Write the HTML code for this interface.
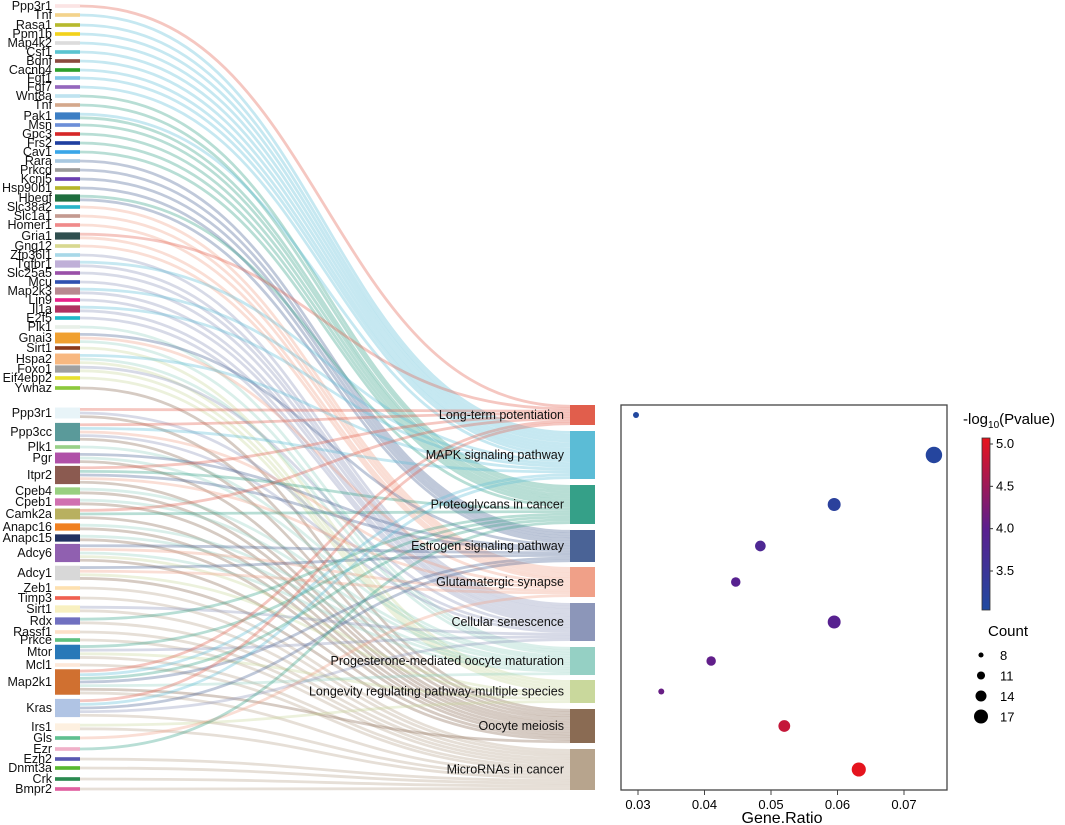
<!DOCTYPE html>
<html><head><meta charset="utf-8"><style>
body{margin:0;background:#fff;}
svg{display:block;font-family:"Liberation Sans",Arial,sans-serif;}
</style></head><body>
<svg id="c" width="1065" height="825" viewBox="0 0 1065 825">
<g id="links"></g>
<g id="genes"></g>
<g id="paths"></g>
<g id="dot"></g>
</svg>
<script>
const pathways=["Long-term potentiation","MAPK signaling pathway","Proteoglycans in cancer","Estrogen signaling pathway","Glutamatergic synapse","Cellular senescence","Progesterone-mediated oocyte maturation","Longevity regulating pathway-multiple species","Oocyte meiosis","MicroRNAs in cancer"];
const geneRatio=[0.0297,0.0745,0.0595,0.0484,0.0447,0.0595,0.041,0.0335,0.052,0.0632];
const counts=[8,17,14,12,11,14,11,8,13,15];
const pvals=[3.1,3.15,3.25,3.8,3.95,3.95,4.05,4.1,4.8,5.05];
const genes=["Ppp3r1","Tnf","Rasa1","Ppm1b","Map4k2","Csf1","Bdnf","Cacnb4","Fgf1","Fgf7","Wnt8a","Tnf","Pak1","Msn","Gpc3","Frs2","Cav1","Rara","Prkcd","Kcnj5","Hsp90b1","Hbegf","Slc38a2","Slc1a1","Homer1","Gria1","Gng12","Zfp36l1","Tgfbr1","Slc25a5","Mcu","Map2k3","Lin9","Il1a","E2f5","Plk1","Gnai3","Sirt1","Hspa2","Foxo1","Eif4ebp2","Ywhaz","Ppp3r1","Ppp3cc","Plk1","Pgr","Itpr2","Cpeb4","Cpeb1","Camk2a","Anapc16","Anapc15","Adcy6","Adcy1","Zeb1","Timp3","Sirt1","Rdx","Rassf1","Prkce","Mtor","Mcl1","Map2k1","Kras","Irs1","Gls","Ezr","Ezh2","Dnmt3a","Crk","Bmpr2"];
const geneLinks=[[0],[1],[1],[1],[1],[1],[1],[1],[1],[1],[2],[2],[1,2],[2],[2],[2],[2],[3],[3],[3],[3],[2,3],[4],[4],[4],[0,4],[4],[5],[1,5],[5],[5],[1,5],[5],[1,5],[5],[6],[3,4,6],[7],[1,6,7],[5,7],[7],[8],[0,5,8],[0,1,4,5,8],[6],[3,6,8],[0,2,3,4,8],[6,8],[6,8],[0,2,8],[6,8],[6,8],[3,4,6,7,8],[3,4,7,8],[9],[9],[5,9],[2,9],[9],[9],[2,5,7,9],[9],[0,1,2,3,6,8,9],[0,1,3,5,9],[7,9],[4],[2],[9],[9],[9],[9]];
const geneCenters=[6,15,25,34,43,52,61,70,78,87,96,105,116,125,134,143,152,161,170,179,188,198,207,216,225,236,246,255,264,273,282,291,300,309,318,327,338,348,359,369,378,388,413,432,447,458,475,491,502,514,527,538,553,573,588,598,609,621,632,640,652,665,682,708,727,738,749,759,768,779,789];
const geneColors=["#fbe4e4","#f3d38c","#b6b92e","#f2d21c","#dcdcdc","#5bc4d0","#8b4a3e","#2ca02c","#7fc8e8","#9467bd","#bfe3f0","#d4a88c","#3c7ec4","#6c8fd8","#d62728","#1f3fa0","#3aa6e8","#a8c8e0","#9a9a9a","#6a3fb0","#b5b52a","#1e6e3e","#2ab4c8","#c49a90","#f08a8a","#2f4f4f","#d8d890","#a8d8e8","#c0b0d8","#9a50a8","#3050b0","#b88890","#e8208a","#b03060","#20b8c8","#e8f0e8","#f0a030","#8b3a1a","#f8b880","#a0a0a0","#e8e030","#8cc83c","#e8f4f8","#5a9a9a","#98d088","#b050a8","#8b5a50","#98d080","#d070b0","#b8b060","#f08020","#203060","#9060b0","#d8d8d8","#fde0b0","#f06050","#f8f0c0","#7070c0","#fde0c8","#60c080","#2878b8","#fde8d8","#d07030","#b0c4e4","#fdf0e0","#60c090","#f0b0c8","#5858b0","#58b830","#2a8a50","#e060a0"];
const pColors=["#e15e4c","#5bbcd6","#35a088","#4a6396","#f0a088","#8c96b9","#95d0c4","#c9d89c","#8a6b53","#b7a48d"];
const pTop=[405,431,485,530,567,603,647,680,709,749];
const pBot=[425,479,524,562,597,641,675,703,743,790];

const NS="http://www.w3.org/2000/svg";
function mk(t,a,p){const e=document.createElementNS(NS,t);for(const k in a)e.setAttribute(k,a[k]);p.appendChild(e);return e;}
const U=2.8;
const L=document.getElementById('links'),G=document.getElementById('genes'),P=document.getElementById('paths'),D=document.getElementById('dot');
const pl=pathways.map(()=>[]);
geneLinks.forEach((ls,gi)=>ls.forEach((p,j)=>pl[p].push([gi,j])));
const tgtY={};
pl.forEach((arr,p)=>{const h=(pBot[p]-pTop[p]);arr.forEach(([gi,j],k)=>{tgtY[gi+'_'+j]=pTop[p]+(k+0.5)*h/arr.length;});});
geneLinks.forEach((ls,gi)=>{
  const h=Math.max(3,ls.length*U*1.3), top=geneCenters[gi]-h/2;
  ls.forEach((p,j)=>{
    const ys=top+(j+0.5)*h/ls.length, yt=tgtY[gi+'_'+j];
    const e=mk('path',{d:`M80,${ys} C325,${ys} 325,${yt} 570,${yt}`,fill:'none',stroke:pColors[p],'stroke-width':U,'stroke-opacity':0.35},L);
    
    
  });
  const r=mk('rect',{x:55,y:top,width:25,height:h,fill:geneColors[gi]},G);
  
  
  const t=mk('text',{x:52,y:geneCenters[gi]+4,'text-anchor':'end','font-size':12.5,fill:'#111'},G);
  t.textContent=genes[gi];
  
  
});
pathways.forEach((n,p)=>{
  const r=mk('rect',{x:570,y:pTop[p],width:25,height:pBot[p]-pTop[p],fill:pColors[p]},P);
  
  
  const t=mk('text',{x:564,y:(pTop[p]+pBot[p])/2+4,'text-anchor':'end','font-size':12.5,fill:'#111'},P);
  t.textContent=n;
  
  
});
const xs=v=>638+(v-0.03)*6650;
const cs=v=>444+(5.0-v)*84.67;
const rs=c=>3+(c-8)*0.58;
function col(v){const t=Math.max(0,Math.min(1,(v-3.05)/2.02));
  const a=[[31,74,160],[90,31,143],[232,20,28]];let i,f;
  if(t<0.47){i=0;f=t/0.47}else{i=1;f=(t-0.47)/0.53}
  const c=a[i].map((x,k)=>Math.round(x+(a[i+1][k]-x)*f));return `rgb(${c})`;}
const box=mk('rect',{x:621,y:405,width:326,height:385,fill:'none',stroke:'#444','stroke-width':1.3},D);

[0.03,0.04,0.05,0.06,0.07].forEach(v=>{
  mk('line',{x1:xs(v),x2:xs(v),y1:790,y2:795,stroke:'#444'},D);
  const t=mk('text',{x:xs(v),y:809,'text-anchor':'middle','font-size':13},D);t.textContent=v.toFixed(2);
  
});
const xt=mk('text',{x:782,y:823,'text-anchor':'middle','font-size':16},D);xt.textContent='Gene.Ratio';

pathways.forEach((n,p)=>{
  const c=mk('circle',{cx:xs(geneRatio[p]),cy:(pTop[p]+pBot[p])/2,r:rs(counts[p]),fill:col(pvals[p])},D);
  
});
const defs=mk('defs',{},D);const g=mk('linearGradient',{id:'cb',x1:0,y1:1,x2:0,y2:0},defs);
[[0,'#1f4aa0'],[0.47,'#5a1f8f'],[1,'#e8141c']].forEach(([o,c])=>mk('stop',{offset:o,'stop-color':c},g));
const cb=mk('rect',{x:982,y:438,width:8,height:172,fill:'url(#cb)',stroke:'#333','stroke-width':0.8},D);

[5.0,4.5,4.0,3.5].forEach(v=>{mk('line',{x1:990,x2:993,y1:cs(v),y2:cs(v),stroke:'#333'},D);
  const t=mk('text',{x:996,y:cs(v)+4,'font-size':13},D);t.textContent=v.toFixed(1);
  });
const ct=mk('text',{x:963,y:424,'font-size':15},D);ct.innerHTML='-log<tspan font-size="10" dy="4">10</tspan><tspan dy="-4">(Pvalue)</tspan>';

const lt=mk('text',{x:988,y:636,'font-size':15},D);lt.textContent='Count';

[8,11,14,17].forEach((c,i)=>{const y=655+i*20.5;
  const e=mk('circle',{cx:981,cy:y,r:rs(c)*0.85,fill:'#000'},D);
  
  const t=mk('text',{x:1000,y:y+5,'font-size':13},D);t.textContent=c;
  });
</script>
</body></html>
